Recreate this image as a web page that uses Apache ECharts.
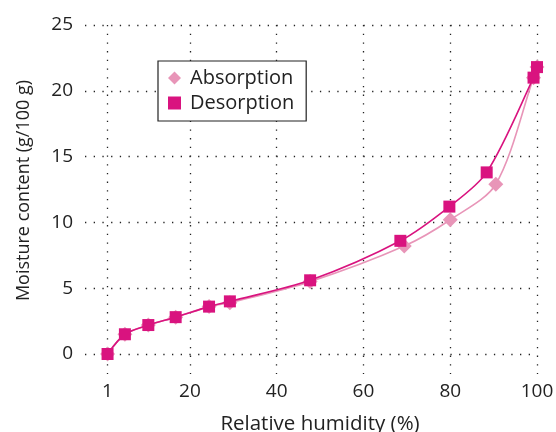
<!DOCTYPE html>
<html>
<head>
<meta charset="utf-8">
<script src="https://cdn.jsdelivr.net/npm/echarts@6/dist/echarts.min.js"></script>
<style>
html,body{margin:0;padding:0;background:#fff;}
#chart{width:556px;height:432px;}
</style>
</head>
<body>
<div id="chart"></div>
<script>
const xTicks = [1, 20, 40, 60, 80, 100];
const yTicks = [0, 5, 10, 15, 20, 25];
const absorptionRH = [1, 5, 10.4, 16.7, 24.4, 29.2, 47.7, 69.4, 80, 90.5, 99.2, 100];
const absorptionMC = [0, 1.5, 2.2, 2.8, 3.6, 3.9, 5.5, 8.2, 10.2, 12.9, 21.0, 21.8];
const desorptionRH = [1, 5, 10.4, 16.7, 24.4, 29.2, 47.7, 68.5, 79.8, 88.4, 99.2, 100];
const desorptionMC = [0, 1.5, 2.2, 2.8, 3.6, 4.0, 5.6, 8.6, 11.2, 13.8, 21.0, 21.8];

const FONT = '"Open Sans", "Noto Sans", sans-serif';
const TXT = '#222';
const gridLine = {show: true, lineStyle: {color: '#222', width: 1.3, type: [1.3, 7.4]}};

const chart = echarts.init(document.getElementById('chart'), null, {renderer: 'canvas'});
chart.setOption({
  animation: false,
  backgroundColor: '#fff',
  textStyle: {fontFamily: FONT},
  grid: {left: 85, right: 19, top: 25, bottom: 58, containLabel: false, outerBoundsMode: 'none'},
  legend: {
    orient: 'vertical', left: 158, top: 61,
    padding: [7, 12, 8, 10], itemGap: 5,
    itemWidth: 13, itemHeight: 13,
    borderColor: '#222', borderWidth: 1.2, backgroundColor: '#fff',
    textStyle: {fontFamily: FONT, fontSize: 20, color: TXT, padding: [0, 0, 0, 4]},
    data: [{name: 'Absorption', icon: 'diamond'}, {name: 'Desorption', icon: 'rect'}]
  },
  xAxis: {
    type: 'value', min: -4.2, max: 100,
    name: 'Relative humidity (%)', nameLocation: 'middle', nameGap: 40,
    nameTextStyle: {fontFamily: FONT, fontSize: 20.5, color: TXT, padding: [0, 0, 0, 18]},
    axisLine: {show: false}, axisTick: {show: false, customValues: xTicks},
    axisLabel: {customValues: xTicks, fontFamily: FONT, fontSize: 19, color: TXT, margin: 8},
    splitLine: gridLine
  },
  yAxis: {
    type: 'value', min: -1.52, max: 25,
    name: 'Moisture content (g/100 g)', nameLocation: 'middle', nameGap: 52,
    nameTextStyle: {fontFamily: FONT, fontSize: 18, color: TXT, padding: [0, 0, 0, 18]},
    axisLine: {show: false}, axisTick: {show: false, customValues: yTicks},
    axisLabel: {customValues: yTicks, fontFamily: FONT, fontSize: 19, color: TXT, margin: 12},
    splitLine: gridLine
  },
  series: [
    {
      name: 'Absorption', type: 'line', smooth: 0.3,
      data: absorptionRH.map((x, i) => [x, absorptionMC[i]]),
      symbol: 'diamond', symbolSize: 15,
      itemStyle: {color: '#e895b8'},
      lineStyle: {color: '#e895b8', width: 1.6},
      z: 2
    },
    {
      name: 'Desorption', type: 'line', smooth: 0.3,
      data: desorptionRH.map((x, i) => [x, desorptionMC[i]]),
      symbol: 'rect', symbolSize: 12,
      itemStyle: {color: '#d9137f'},
      lineStyle: {color: '#d9137f', width: 1.6},
      z: 3
    }
  ]
});
</script>
</body>
</html>
